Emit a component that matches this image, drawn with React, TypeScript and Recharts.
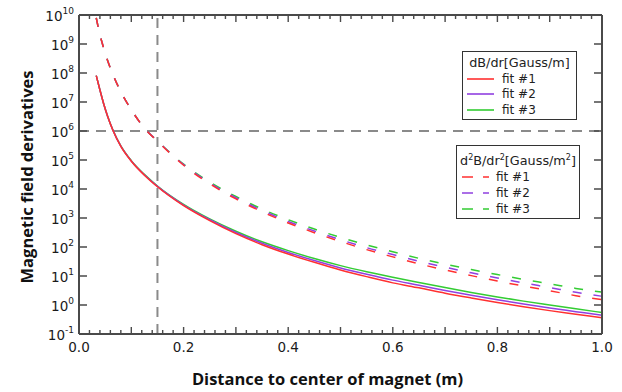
import React from 'react';
import { LineChart, Line, XAxis, YAxis, ReferenceLine, Label } from 'recharts';

// ---------- data ----------
const distance = [0.033, 0.04, 0.047, 0.055, 0.065, 0.08, 0.1, 0.125, 0.15, 0.2, 0.25, 0.3, 0.35, 0.4, 0.45, 0.5, 0.55, 0.6, 0.65, 0.7, 0.75, 0.8, 0.85, 0.9, 0.95, 1.0];

// dB/dr [Gauss/m]
const dBdrFit1 = [8.1e7, 2.6e7, 8.9e6, 3.1e6, 1.04e6, 2.95e5, 9.1e4, 3.0e4, 1.2e4, 2.67e3, 8.1e2, 2.88e2, 1.2e2, 57, 29.6, 16.2, 9.5, 5.8, 3.9, 2.56, 1.75, 1.22, 0.87, 0.64, 0.48, 0.36];
const dBdrFit2 = [8.1e7, 2.6e7, 8.9e6, 3.1e6, 1.05e6, 3.0e5, 9.3e4, 3.1e4, 1.23e4, 2.8e3, 8.7e2, 3.16e2, 1.35e2, 65, 34, 19, 11.5, 7.2, 4.8, 3.16, 2.16, 1.51, 1.08, 0.79, 0.59, 0.44];
const dBdrFit3 = [8.1e7, 2.6e7, 8.9e6, 3.1e6, 1.06e6, 3.05e5, 9.5e4, 3.2e4, 1.27e4, 2.95e3, 9.3e2, 3.5e2, 1.51e2, 75, 40, 22.8, 14.1, 9.1, 6.0, 4.0, 2.72, 1.9, 1.36, 1.0, 0.74, 0.55];

// d2B/dr2 [Gauss/m^2]
const d2Bdr2Fit1 = [7.9e9, 2.1e9, 7.4e8, 2.6e8, 8.7e7, 2.25e7, 5.4e6, 1.26e6, 4.45e5, 6.6e4, 1.5e4, 4.55e3, 1.64e3, 676, 312, 155, 81, 45.6, 26.2, 16.2, 10.3, 6.7, 4.5, 3.1, 2.1, 1.52];
const d2Bdr2Fit2 = [7.9e9, 2.1e9, 7.4e8, 2.6e8, 8.7e7, 2.25e7, 5.4e6, 1.26e6, 4.5e5, 6.9e4, 1.62e4, 5.0e3, 1.82e3, 760, 355, 178, 95, 55, 32, 20, 12.9, 8.5, 5.75, 4.0, 2.75, 2.0];
const d2Bdr2Fit3 = [7.9e9, 2.1e9, 7.4e8, 2.6e8, 8.7e7, 2.25e7, 5.4e6, 1.26e6, 4.55e5, 7.2e4, 1.73e4, 5.5e3, 2.04e3, 875, 415, 214, 117, 69, 40.6, 25.8, 16.8, 11.2, 7.65, 5.4, 3.74, 2.76];

const fitNames = ['fit #1', 'fit #2', 'fit #3'];
const fitColors = ['#ff3030', '#9040e0', '#33cc33'];

const yTicks = [0.1, 1, 10, 100, 1e3, 1e4, 1e5, 1e6, 1e7, 1e8, 1e9, 1e10];
const xTicks = [0, 0.02, 0.04, 0.06, 0.08, 0.1, 0.12, 0.14, 0.16, 0.18, 0.2, 0.22, 0.24, 0.26, 0.28, 0.3, 0.32, 0.34, 0.36, 0.38, 0.4, 0.42, 0.44, 0.46, 0.48, 0.5, 0.52, 0.54, 0.56, 0.58, 0.6, 0.62, 0.64, 0.66, 0.68, 0.7, 0.72, 0.74, 0.76, 0.78, 0.8, 0.82, 0.84, 0.86, 0.88, 0.9, 0.92, 0.94, 0.96, 0.98, 1.0];
const xMajorTicks = [0, 0.1, 0.2, 0.3, 0.4, 0.5, 0.6, 0.7, 0.8, 0.9, 1.0];
const xLabelTicks = [0, 0.2, 0.4, 0.6, 0.8, 1.0];

const markerDistance = 0.15;
const markerField = 1e6;

const firstTitle = 'dB/dr[Gauss/m]';
const xTitle = 'Distance to center of magnet (m)';
const yTitle = 'Magnetic field derivatives';

// ---------- table built from arrays ----------
const table = distance.map((x, i) => ({
  x,
  s1: dBdrFit1[i],
  s2: dBdrFit2[i],
  s3: dBdrFit3[i],
  d1: d2Bdr2Fit1[i],
  d2: d2Bdr2Fit2[i],
  d3: d2Bdr2Fit3[i],
}));

const FRAME = '#4a4a4a';
const TICK_FONT = '"DejaVu Sans", Verdana, sans-serif';
const TITLE_FONT = '"Open Sans", "Noto Sans", sans-serif';
const has = (arr: number[], v: number) => arr.some((t) => Math.abs(t - v) < 1e-6);

// tickSize 0 / tickMargin 0 => the tick anchor (x, y) sits exactly on the axis line.
const BottomTick = (p: any) => {
  const { x, y, payload } = p;
  const v = payload.value;
  const len = has(xMajorTicks, v) ? 7 : 4;
  return (
    <g>
      <rect x={x - 0.7} y={y - len} width={1.4} height={len} fill={FRAME} />
      {has(xLabelTicks, v) && (
        <text x={x} y={y + 17.7} textAnchor="middle" fontSize={13.5} fontFamily={TICK_FONT} fill="#1a1a1a">
          {v.toFixed(1)}
        </text>
      )}
    </g>
  );
};

const TopTick = (p: any) => {
  const { x, y, payload } = p;
  const len = has(xMajorTicks, payload.value) ? 7 : 4;
  return <rect x={x - 0.7} y={y} width={1.4} height={len} fill={FRAME} />;
};

const LeftTick = (p: any) => {
  const { x, y, payload } = p;
  const exp = Math.round(Math.log10(payload.value));
  return (
    <g>
      <rect x={x} y={y - 0.75} width={8} height={1.5} fill={FRAME} />
      <text x={x - 5} y={y + 6} textAnchor="end" fontSize={13.5} fontFamily={TICK_FONT} fill="#1a1a1a">
        10
        <tspan dy={-7.5} fontSize={9}>{exp}</tspan>
      </text>
    </g>
  );
};

const RightTick = (p: any) => {
  const { x, y } = p;
  return <rect x={x - 8} y={y - 0.75} width={8} height={1.5} fill={FRAME} />;
};

const legendFont: React.CSSProperties = {
  fontFamily: TICK_FONT,
  fontSize: 12,
  color: '#222',
  whiteSpace: 'nowrap',
  position: 'absolute',
  lineHeight: '16px',
};

const LegendBox = ({ left, top, width, height, titleY, rowYs, sampleX, textX, dashed, title }: any) => (
  <div
    style={{
      position: 'absolute',
      left,
      top,
      width,
      height,
      boxSizing: 'border-box',
      border: '1.5px solid #333',
      background: '#fff',
    }}
  >
    <div style={{ ...legendFont, fontSize: 12.8, left: 0, width: '100%', textAlign: 'center', top: titleY - 8 }}>{title}</div>
    {fitNames.map((name, i) => (
      <React.Fragment key={name}>
        <svg style={{ position: 'absolute', left: sampleX, top: rowYs[i] - 2 }} width={27} height={4}>
          <line x1={0} x2={27} y1={2} y2={2} stroke={fitColors[i]} strokeWidth={1.6} strokeDasharray={dashed ? '11 10' : undefined} />
        </svg>
        <div style={{ ...legendFont, left: textX, top: rowYs[i] - 8 }}>{name}</div>
      </React.Fragment>
    ))}
  </div>
);

const sup: React.CSSProperties = { fontSize: 8, position: 'relative', top: -5 };
const axisLineStyle = { stroke: FRAME, strokeWidth: 2 };

export default function App() {
  return (
    <div style={{ position: 'absolute', left: 0, top: 0, width: 622, height: 392, background: '#fff' }}>
      <LineChart width={622} height={392} data={table} margin={{ top: 10, right: 10, bottom: 18, left: 0 }}>
        <XAxis
          dataKey="x"
          type="number"
          domain={[0, 1]}
          ticks={xTicks}
          interval={0}
          tickSize={0}
          tickMargin={0}
          height={40}
          tickLine={false}
          tick={(p: any) => <BottomTick {...p} />}
          axisLine={axisLineStyle}
        >
          <Label
            content={(props: any) => {
              const vb = props.viewBox || { x: 79, width: 523 };
              return (
                <text x={vb.x + vb.width / 2 - 13} y={385} textAnchor="middle" fontSize={16.5} fontWeight={700} fontFamily={TITLE_FONT} fill="#111">
                  {xTitle}
                </text>
              );
            }}
          />
        </XAxis>
        <XAxis
          xAxisId="top"
          orientation="top"
          dataKey="x"
          type="number"
          domain={[0, 1]}
          ticks={xTicks}
          interval={0}
          tickSize={0}
          tickMargin={0}
          height={5}
          tickLine={false}
          tick={(p: any) => <TopTick {...p} />}
          axisLine={axisLineStyle}
        />
        <YAxis
          scale="log"
          type="number"
          domain={[0.1, 1e10]}
          allowDataOverflow
          ticks={yTicks}
          interval={0}
          width={79}
          tickSize={0}
          tickMargin={0}
          tickLine={false}
          tick={(p: any) => <LeftTick {...p} />}
          axisLine={axisLineStyle}
        >
          <Label
            content={() => (
              <text
                x={33}
                y={177}
                transform="rotate(-90, 33, 177)"
                textAnchor="middle"
                fontSize={16.5}
                fontWeight={700}
                fontFamily={TITLE_FONT}
                fill="#111"
              >
                {yTitle}
              </text>
            )}
          />
        </YAxis>
        <YAxis
          yAxisId="right"
          orientation="right"
          scale="log"
          type="number"
          domain={[0.1, 1e10]}
          allowDataOverflow
          ticks={yTicks}
          interval={0}
          width={10}
          tickSize={0}
          tickMargin={0}
          tickLine={false}
          tick={(p: any) => <RightTick {...p} />}
          axisLine={axisLineStyle}
        />
        <ReferenceLine y={markerField} stroke="#8a8a8a" strokeWidth={2} strokeDasharray="10 7" />
        <ReferenceLine x={markerDistance} stroke="#8a8a8a" strokeWidth={2} strokeDasharray="10 7" />

        <Line dataKey="d3" stroke={fitColors[2]} strokeWidth={1.5} strokeDasharray="9 12" dot={false} type="monotone" isAnimationActive={false} />
        <Line dataKey="d2" stroke={fitColors[1]} strokeWidth={1.5} strokeDasharray="9 12" dot={false} type="monotone" isAnimationActive={false} />
        <Line dataKey="d1" stroke={fitColors[0]} strokeWidth={1.5} strokeDasharray="9 12" dot={false} type="monotone" isAnimationActive={false} />
        <Line dataKey="s3" stroke={fitColors[2]} strokeWidth={1.5} dot={false} type="monotone" isAnimationActive={false} />
        <Line dataKey="s2" stroke={fitColors[1]} strokeWidth={1.5} dot={false} type="monotone" isAnimationActive={false} />
        <Line dataKey="s1" stroke={fitColors[0]} strokeWidth={1.5} dot={false} type="monotone" isAnimationActive={false} />
      </LineChart>

      <LegendBox
        left={462}
        top={51}
        width={115}
        height={69}
        titleY={11}
        rowYs={[27, 42, 58]}
        sampleX={4}
        textX={39}
        dashed={false}
        title={firstTitle}
      />
      <LegendBox
        left={456}
        top={145}
        width={124}
        height={74}
        titleY={15}
        rowYs={[31, 47, 63]}
        sampleX={5}
        textX={39}
        dashed={true}
        title={
          <span>
            d<span style={sup}>2</span>B/dr<span style={sup}>2</span>[Gauss/m<span style={sup}>2</span>]
          </span>
        }
      />
    </div>
  );
}
